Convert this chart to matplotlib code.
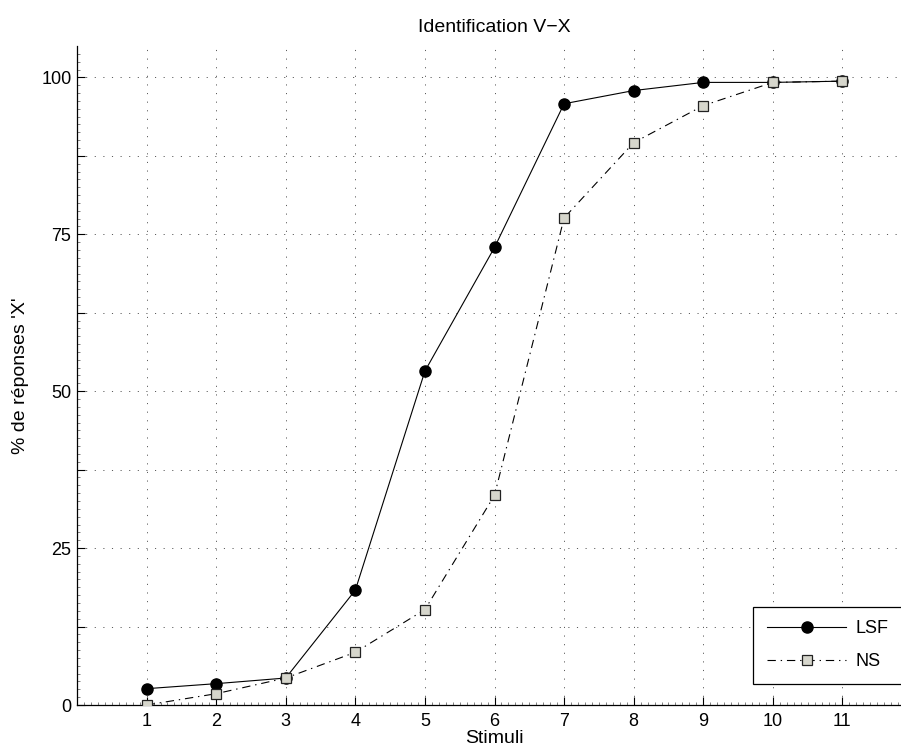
import matplotlib
matplotlib.use('Agg')
import matplotlib.pyplot as plt
import numpy as np

plt.rcParams['font.family'] = ['Liberation Sans', 'DejaVu Sans']
plt.rcParams['lines.scale_dashes'] = False

stimuli = [1, 2, 3, 4, 5, 6, 7, 8, 9, 10, 11]
lsf = [2.6, 3.4, 4.3, 18.3, 53.2, 72.9, 95.8, 97.9, 99.2, 99.2, 99.4]
ns = [0.0, 1.8, 4.3, 8.4, 15.2, 33.4, 77.6, 89.6, 95.5, 99.2, 99.4]

fig = plt.figure(figsize=(9.01, 7.52), dpi=100)
ax = fig.add_axes([77 / 901, 47 / 752, 835 / 901, 659 / 752])

ax.plot(stimuli, lsf, color='black', linewidth=0.8, marker='o',
        markersize=8, markerfacecolor='black', markeredgecolor='black',
        label='LSF', zorder=3)
ax.plot(stimuli, ns, color='black', linewidth=0.8,
        linestyle=(0, (6, 3.5, 1, 3.5)), marker='s', markersize=7,
        markerfacecolor='#d6d6cc', markeredgecolor='#222222',
        markeredgewidth=0.9, label='NS', zorder=4)

ax.set_xlim(0, 12)
ax.set_ylim(0, 105)

ax.set_xticks(stimuli)
ax.set_xticks(np.arange(0, 12.01, 0.1), minor=True)
yt = np.arange(0, 100.1, 12.5)
ax.set_yticks(yt)
ax.set_yticklabels(['%d' % v if v % 25 == 0 else '' for v in yt])
ax.set_yticks(np.arange(0, 105, 1.25), minor=True)

ax.tick_params(which='major', direction='in', length=6, width=0.8,
               labelsize=13, color='black')
ax.tick_params(axis='x', which='major', pad=5.5)
ax.tick_params(axis='y', which='major', pad=4)
ax.tick_params(which='minor', direction='in', length=2, width=0.5,
               color='0.3')

ax.spines['top'].set_visible(False)
ax.spines['right'].set_visible(False)
ax.spines['left'].set_linewidth(0.9)
ax.spines['bottom'].set_linewidth(0.9)

ax.grid(True, which='major', color='0.35', linewidth=0.7,
        linestyle=(0, (0.8, 5.4)))

ax.set_title('Identification V\u2212X', fontsize=14, pad=10)
ax.set_xlabel('Stimuli', fontsize=14, labelpad=0)
ax.set_ylabel("% de réponses 'X'", fontsize=14, labelpad=8.5)

leg = ax.legend(loc='lower right', bbox_to_anchor=(0.988, 0.032),
                borderaxespad=0, fancybox=False, edgecolor='black',
                framealpha=1, fontsize=13, handlelength=4.4,
                labelspacing=0.9, borderpad=0.75, handletextpad=0.5)
leg.get_frame().set_linewidth(0.9)

fig.savefig('out.png', dpi=100)
